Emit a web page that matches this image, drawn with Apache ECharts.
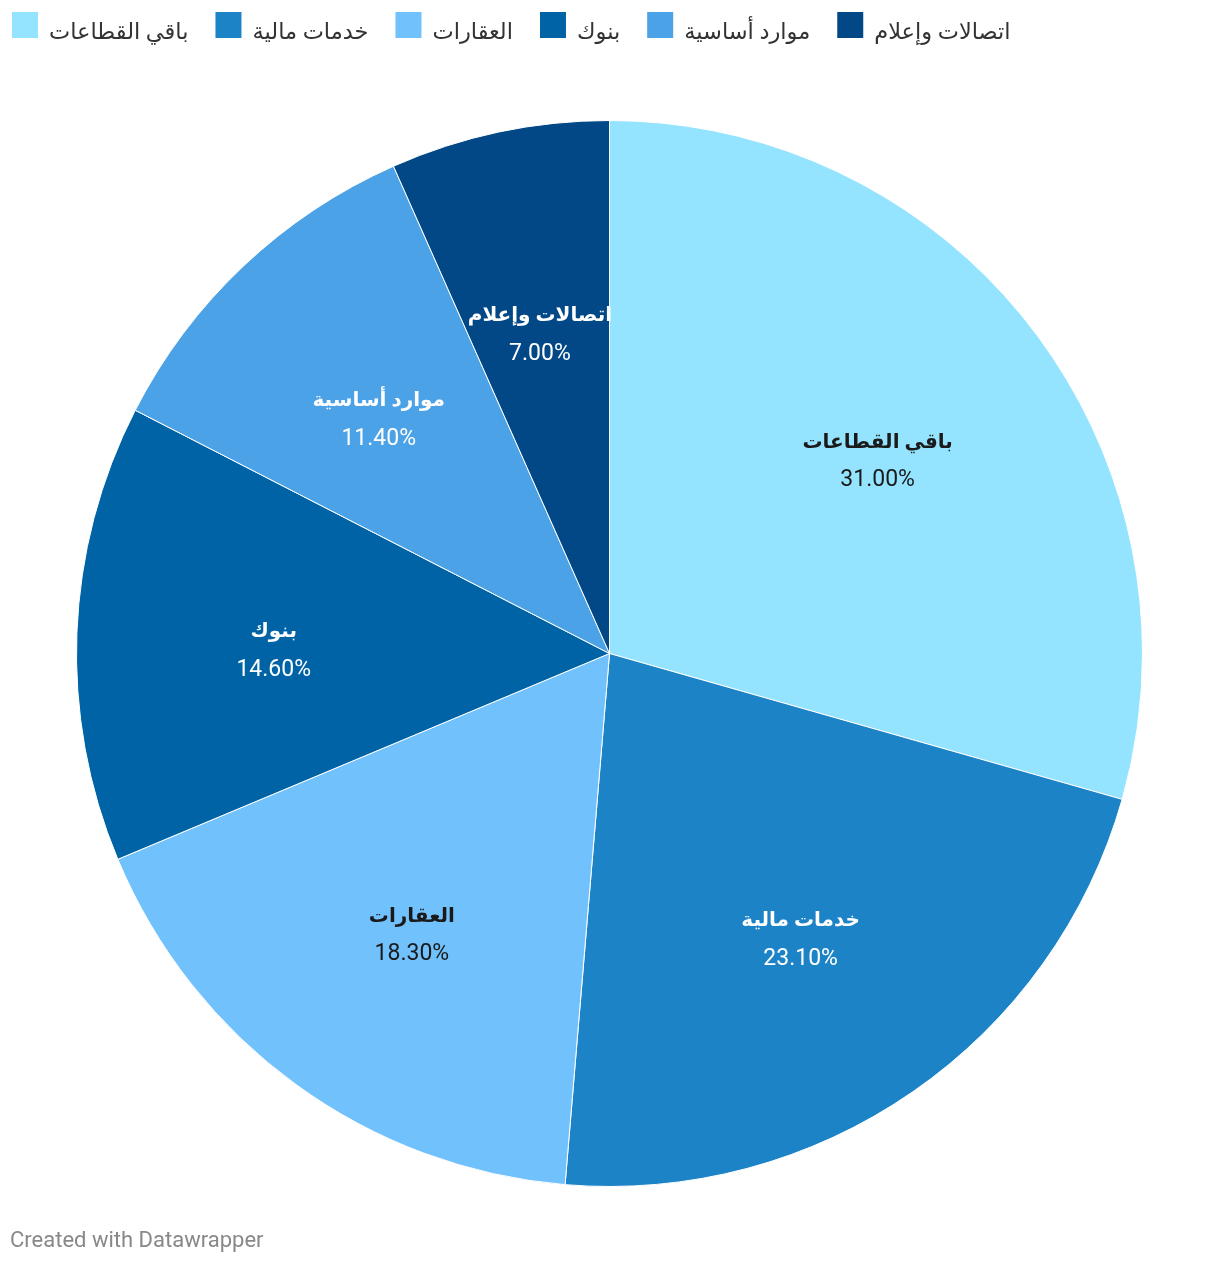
<!DOCTYPE html>
<html><head><meta charset="utf-8">
<script src="https://cdn.jsdelivr.net/npm/echarts@6/dist/echarts.min.js"></script>
<style>html,body{margin:0;padding:0;background:#fff}#c{width:1220px;height:1264px}</style>
</head><body><div id="c"></div>
<script>
const categories = ['باقي القطاعات','خدمات مالية','العقارات','بنوك','موارد أساسية','اتصالات وإعلام'];
const values = [31.0, 23.1, 18.3, 14.6, 11.4, 7.0];
const colors = ['#95e4ff','#1c83c7','#71c1fd','#0063a6','#4ca2e7','#024886'];
const labelColors = ['#1a1a1a','#ffffff','#1a1a1a','#ffffff','#ffffff','#ffffff'];
const FONT = 'Roboto, "DejaVu Sans", sans-serif';

const chart = echarts.init(document.getElementById('c'), null, {renderer:'canvas'});
const center = [609.5, 653.5];
chart.setOption({
  animation:false,
  textStyle:{fontFamily:FONT},
  legend:{
    data:categories, left:10, top:10, padding:0, itemWidth:28, itemHeight:28, itemGap:25,
    icon:'rect', selectedMode:false,
    formatter:n=>'{t|'+n+'}',
    textStyle:{fontSize:22.5, color:'#333', fontFamily:FONT,
      rich:{t:{fontSize:22.5, color:'#333', fontFamily:FONT, padding:[16,0,0,5]}}}
  },
  graphic:[{type:'text', left:10, top:1230, style:{text:'Created with Datawrapper', fill:'#888', font:'22px Roboto'}}],
  series:[
    {type:'pie', center:center, radius:[0,533], startAngle:90, silent:true,
     data:categories.map((n,i)=>({name:n, value:values[i], itemStyle:{color:colors[i]}})),
     itemStyle:{borderColor:'#fff', borderWidth:1},
     label:{show:false}, labelLine:{show:false}},
    {type:'pie', center:center, radius:[0,666], startAngle:90, silent:true, z:5,
     data:categories.map((n,i)=>({name:n, value:values[i], itemStyle:{color:'rgba(0,0,0,0)'},
       label:{color:labelColors[i]}})),
     itemStyle:{borderWidth:0},
     labelLine:{show:false},
     label:{show:true, position:'inside', fontFamily:FONT, padding:[21,0,0,0],
       formatter:p=>'{n|'+p.name+'}\n{v|'+p.value.toFixed(2)+'%}',
       rich:{n:{fontSize:20, fontWeight:'bold', lineHeight:38, fontFamily:FONT},
             v:{fontSize:23, lineHeight:38, fontFamily:FONT}}}}
  ]
});
</script></body></html>
